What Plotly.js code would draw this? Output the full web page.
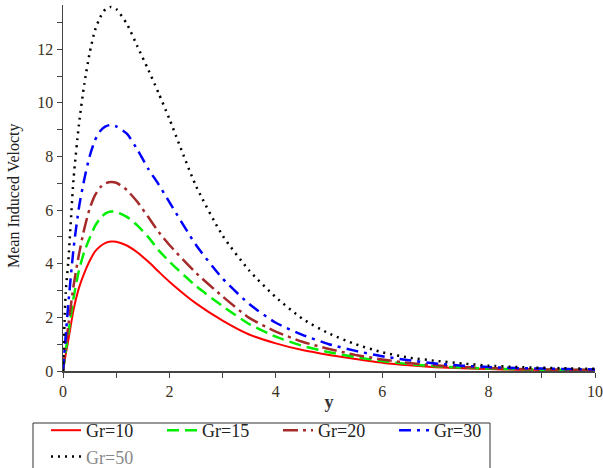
<!DOCTYPE html>
<html>
<head>
<meta charset="utf-8">
<script src="https://cdn.plot.ly/plotly-3.0.1.min.js"></script>
<style>html,body{margin:0;padding:0;background:#fff;}#chart{width:603px;height:468px;}</style>
</head>
<body>
<div id="chart"></div>
<script>
var yPos = [0, 0.05, 0.1, 0.2, 0.3, 0.4, 0.5, 0.6, 0.7, 0.8, 0.9, 1.0, 1.2, 1.4, 1.6, 1.8, 2.0, 2.5, 3.0, 3.5, 4.0, 4.5, 5.0, 5.5, 6.0, 6.5, 7.0, 7.5, 8.0, 8.5, 9.0, 9.5, 10];
var gr10 = [0, 0.6, 1.15, 2.3, 3.1, 3.65, 4.1, 4.45, 4.65, 4.78, 4.83, 4.82, 4.68, 4.42, 4.08, 3.7, 3.33, 2.52, 1.88, 1.36, 1.03, 0.78, 0.6, 0.45, 0.31, 0.21, 0.14, 0.1, 0.07, 0.05, 0.04, 0.03, 0.02];
var gr15 = [0, 0.75, 1.4, 2.75, 3.75, 4.45, 4.95, 5.4, 5.7, 5.88, 5.95, 5.93, 5.75, 5.42, 5.0, 4.5, 4.08, 3.17, 2.42, 1.75, 1.28, 0.94, 0.7, 0.52, 0.37, 0.26, 0.18, 0.13, 0.09, 0.07, 0.05, 0.04, 0.03];
var gr20 = [0, 0.9, 1.7, 3.2, 4.35, 5.3, 6.05, 6.55, 6.85, 7.0, 7.05, 7.02, 6.75, 6.3, 5.75, 5.18, 4.7, 3.66, 2.78, 1.98, 1.47, 1.09, 0.82, 0.6, 0.43, 0.3, 0.21, 0.15, 0.11, 0.08, 0.06, 0.05, 0.04];
var gr30 = [0, 1.3, 2.5, 4.6, 6.1, 7.15, 8.0, 8.6, 8.95, 9.12, 9.18, 9.12, 8.85, 8.25, 7.55, 6.95, 6.3, 4.7, 3.45, 2.5, 1.8, 1.35, 1.0, 0.75, 0.55, 0.4, 0.28, 0.2, 0.15, 0.11, 0.09, 0.07, 0.06];
var gr50 = [0, 2.9, 4.1, 7.2, 9.2, 10.7, 11.85, 12.7, 13.2, 13.5, 13.58, 13.5, 12.95, 12.1, 11.25, 10.35, 9.4, 6.9, 5.05, 3.75, 2.75, 1.95, 1.4, 1.0, 0.7, 0.5, 0.38, 0.28, 0.2, 0.15, 0.12, 0.1, 0.08];
var names = ["Gr=10", "Gr=15", "Gr=20", "Gr=30", "Gr=50"];

var serif = "Liberation Serif, Times New Roman, serif";
function tr(vals, name, color, dash, width) {
  return {x: yPos, y: vals, name: name, type: "scatter", mode: "lines",
    line: {color: color, dash: dash, width: width, shape: "spline", smoothing: 0.6}};
}
var data = [
  tr(gr10, names[0], "#ff0000", "solid", 2),
  tr(gr15, names[1], "#00ee00", "12px,6px", 2.5),
  tr(gr20, names[2], "#a52a2a", "15px,5px,3px,5px", 2.5),
  tr(gr30, names[3], "#0000ff", "12px,6px,3px,6px", 2.5),
  tr(gr50, names[4], "#000000", "2px,5px", 2.5)
];
var layout = {
  width: 603, height: 468,
  margin: {l: 63, r: 8, t: 5, b: 97},
  paper_bgcolor: "#ffffff", plot_bgcolor: "#ffffff",
  showlegend: true,
  font: {family: serif, color: "#333333", size: 16},
  xaxis: {range: [0, 10], dtick: 2, tick0: 0, ticks: "outside", ticklen: 5, tickcolor: "#444",
    showline: true, linecolor: "#444", linewidth: 1.5, showgrid: false, zeroline: false,
    minor: {dtick: 1, ticks: "outside", ticklen: 5, tickcolor: "#444", showgrid: false},
    tickfont: {family: serif, size: 16, color: "#3a3020"},
    title: {text: "<b>y</b>", font: {family: serif, size: 18, color: "#333"}, standoff: 4}},
  yaxis: {range: [0, 13.65], dtick: 2, tick0: 0, ticks: "outside", ticklen: 5, tickcolor: "#444",
    showline: true, linecolor: "#444", linewidth: 1.5, showgrid: false, zeroline: false,
    minor: {dtick: 1, ticks: "outside", ticklen: 5, tickcolor: "#444", showgrid: false},
    tickfont: {family: serif, size: 16, color: "#3a3020"}},
  annotations: [{text: "Mean Induced Velocty", textangle: -90, showarrow: false,
    xref: "paper", yref: "paper", x: (14 - 63) / 532, y: (371 - 196) / 366,
    xanchor: "center", yanchor: "middle", font: {family: serif, size: 16, color: "#222"}}],
  legend: {orientation: "h", xref: "container", yref: "container", x: 46 / 603, xanchor: "left", y: 1 - 412/468, yanchor: "top",
    bordercolor: "rgba(0,0,0,0)", borderwidth: 0, bgcolor: "rgba(0,0,0,0)", entrywidth: 71, entrywidthmode: "pixels",
    font: {family: serif, size: 18, color: "#222"}, tracegroupgap: 0},
  shapes: [{type: "rect", xref: "paper", yref: "paper",
    x0: (33 - 63) / 532, x1: (490 - 63) / 532, y0: (371 - 423) / 366, y1: (371 - 475) / 366,
    line: {color: "#333", width: 1}, fillcolor: "rgba(0,0,0,0)", layer: "below"}]
};
Plotly.newPlot("chart", data, layout, {displayModeBar: false, staticPlot: true}).then(function(){
  var texts = document.querySelectorAll(".legendtext");
  if (texts.length === 5) texts[4].style.fill = "#888888";
});
</script>
</body>
</html>
